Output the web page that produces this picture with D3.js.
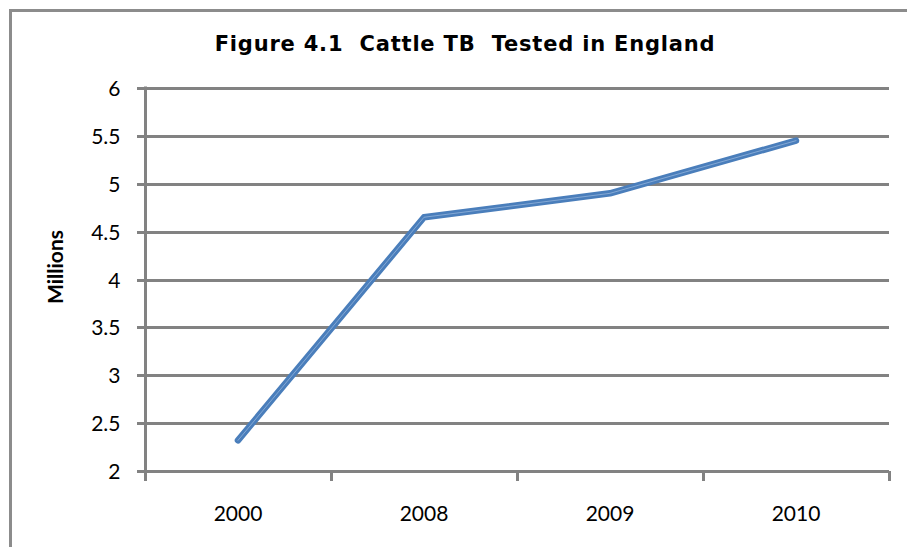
<!DOCTYPE html>
<html>
<head>
<meta charset="utf-8">
<script src="https://cdn.jsdelivr.net/npm/d3@7.9.0/dist/d3.min.js"></script>
<style>
  body { margin: 0; background: #fff; }
  svg { display: block; }
</style>
</head>
<body>
<div id="chart"></div>
<script>
const years = ['2000', '2008', '2009', '2010'];
const tested = [2.32, 4.65, 4.90, 5.45];
const yTicks = [2, 2.5, 3, 3.5, 4, 4.5, 5, 5.5, 6];
const titleText = 'Figure 4.1  Cattle TB  Tested in England';
const yLabel = 'Millions';

const width = 907;
const height = 547;
const plot = { left: 145, right: 889, top: 88, bottom: 471 };
const labelFont = 'Lato, "Open Sans", sans-serif';

const svg = d3.select('#chart')
    .append('svg')
    .attr('width', width)
    .attr('height', height);

// chart frame
svg.append('path')
    .attr('d', `M10.5,${height} V10.5 H${width + 5}`)
    .attr('fill', 'none')
    .attr('stroke', '#8c8c8c')
    .attr('stroke-width', 3);

const x = d3.scaleBand()
    .domain(years)
    .range([plot.left, plot.right]);

const y = d3.scaleLinear()
    .domain([2, 6])
    .range([plot.bottom, plot.top]);

const gridColor = '#828282';
const snap = v => Math.round(v) + 0.5;

// gridlines
svg.append('g')
    .selectAll('line')
    .data(yTicks)
    .join('line')
    .attr('x1', plot.left - 8)
    .attr('x2', plot.right)
    .attr('y1', d => snap(y(d)))
    .attr('y2', d => snap(y(d)))
    .attr('stroke', gridColor)
    .attr('stroke-width', 3);

// y axis
const yAxis = svg.append('g')
    .attr('transform', `translate(${snap(plot.left)},0)`)
    .call(d3.axisLeft(y).tickValues(yTicks).tickSize(0).tickPadding(25).tickFormat(d3.format('')));
yAxis.select('.domain').remove();
yAxis.append('line')
    .attr('y1', plot.top - 1.5)
    .attr('y2', plot.bottom + 10)
    .attr('stroke', gridColor)
    .attr('stroke-width', 3);
yAxis.selectAll('text')
    .attr('font-family', labelFont)
    .attr('font-size', 21)
    .attr('fill', '#000')
    .attr('dy', '0.36em');

// x axis ticks at band edges
const edges = years.slice(1).map(d => x(d)).concat([plot.right]);
svg.append('g')
    .selectAll('line')
    .data(edges)
    .join('line')
    .attr('x1', d => snap(d))
    .attr('x2', d => snap(d))
    .attr('y1', plot.bottom)
    .attr('y2', plot.bottom + 10)
    .attr('stroke', gridColor)
    .attr('stroke-width', 3);

svg.append('g')
    .selectAll('text')
    .data(years)
    .join('text')
    .attr('x', d => x(d) + x.bandwidth() / 2)
    .attr('y', 521)
    .attr('text-anchor', 'middle')
    .attr('font-family', labelFont)
    .attr('font-size', 21)
    .attr('fill', '#000')
    .text(d => d);

// y label
svg.append('text')
    .attr('transform', `translate(63,267) rotate(-90)`)
    .attr('text-anchor', 'middle')
    .attr('font-family', labelFont)
    .attr('font-weight', 'bold')
    .attr('font-size', 21)
    .attr('fill', '#000')
    .text(yLabel);

// title
svg.append('text')
    .attr('x', 465)
    .attr('y', 51)
    .attr('text-anchor', 'middle')
    .attr('font-family', '"DejaVu Sans", Verdana, sans-serif')
    .attr('font-weight', 'bold')
    .attr('font-size', 21)
    .attr('letter-spacing', 0.8)
    .attr('fill', '#000')
    .style('white-space', 'pre')
    .text(titleText);

// line series
const pts = years.map((d, i) => [x(d) + x.bandwidth() / 2, y(tested[i])]);
const line = d3.line();

svg.append('path')
    .attr('d', line(pts))
    .attr('fill', 'none')
    .attr('stroke', '#4a7ebb')
    .attr('stroke-width', 6.5)
    .attr('stroke-linecap', 'round')
    .attr('stroke-linejoin', 'round');

svg.append('path')
    .attr('d', line(pts))
    .attr('fill', 'none')
    .attr('stroke', '#9dbbe0')
    .attr('stroke-width', 1)
    .attr('stroke-opacity', 0.7)
    .attr('stroke-linecap', 'round')
    .attr('stroke-linejoin', 'round');
</script>
</body>
</html>
